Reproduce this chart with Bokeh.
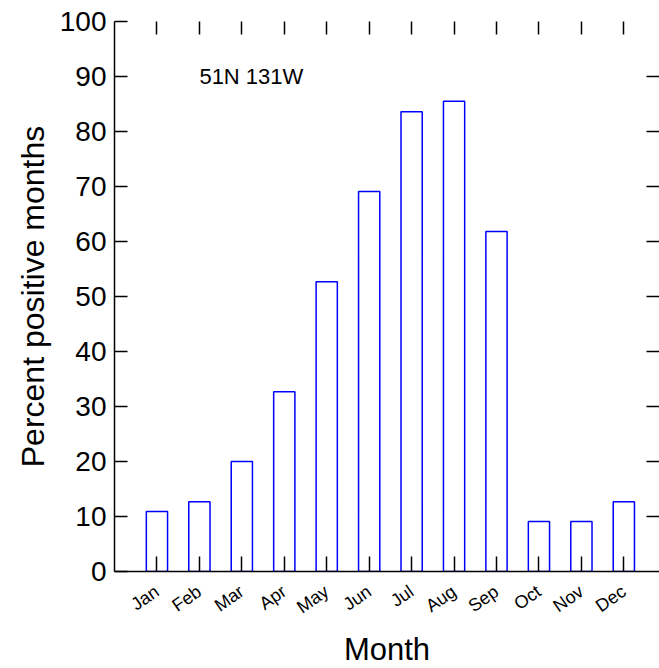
import math
from bokeh.plotting import figure
from bokeh.models import Range1d, LinearAxis, FixedTicker, Label, Title
from bokeh.embed import file_html
from bokeh.resources import INLINE

months = ["Jan", "Feb", "Mar", "Apr", "May", "Jun", "Jul", "Aug", "Sep", "Oct", "Nov", "Dec"]
month_idx = [1, 2, 3, 4, 5, 6, 7, 8, 9, 10, 11, 12]
percent = [10.9, 12.7, 20.0, 32.7, 52.7, 69.1, 83.6, 85.5, 61.8, 9.1, 9.1, 12.7]
y_ticks = [0, 10, 20, 30, 40, 50, 60, 70, 80, 90, 100]
site_label = "51N 131W"
x_title = "Month"
y_title = "Percent positive months"

FONT = "Liberation Sans"
X_END = 12.84

p = figure(width=659, height=668, output_backend="svg", toolbar_location=None,
           x_range=Range1d(0, X_END), y_range=Range1d(0, 100),
           x_axis_location=None, y_axis_location=None,
           min_border_left=114, min_border_right=0, min_border_top=21, min_border_bottom=97)
p.grid.visible = False
p.outline_line_color = None

p.vbar(x=month_idx, top=percent, width=0.5, bottom=0,
       fill_color="white", line_color="#0000ff", line_width=1.5)

# left axis
ya = LinearAxis(ticker=FixedTicker(ticks=y_ticks), axis_label=y_title)
ya.major_tick_in = 13
ya.major_tick_out = 0
ya.minor_tick_line_color = None
ya.major_label_text_font = FONT
ya.major_label_text_font_size = "28px"
ya.major_label_text_color = "black"
ya.major_label_standoff = 8
ya.axis_label_text_font = FONT
ya.axis_label_text_font_size = "32px"
ya.axis_label_text_font_style = "normal"
ya.axis_label_text_color = "black"
ya.axis_label_standoff = 6
ya.axis_line_width = 1.5
ya.axis_line_color = "black"
ya.major_tick_line_width = 1.5
ya.major_tick_line_color = "black"
p.add_layout(ya, "left")

# bottom axis
xa = LinearAxis(ticker=FixedTicker(ticks=month_idx))
xa.major_label_overrides = {i: m for i, m in zip(month_idx, months)}
xa.major_tick_in = 15
xa.major_tick_out = 0
xa.minor_tick_line_color = None
xa.major_label_orientation = math.radians(35)
xa.major_label_text_font = FONT
xa.major_label_text_font_size = "18px"
xa.major_label_text_color = "black"
xa.major_label_standoff = 18
xa.axis_line_width = 1.5
xa.axis_line_color = "black"
xa.major_tick_line_width = 1.5
xa.major_tick_line_color = "black"
p.add_layout(xa, "below")

# x axis title in its own panel below the axis
p.add_layout(Title(text=x_title, align="center", text_font=FONT, text_font_size="31px",
                   text_font_style="normal", text_color="black", standoff=3), "below")

# top ticks
ta = LinearAxis(ticker=FixedTicker(ticks=month_idx))
ta.major_label_text_font_size = "0px"
ta.major_label_standoff = 0
ta.major_tick_in = 13
ta.major_tick_out = 0
ta.minor_tick_line_color = None
ta.axis_line_color = None
ta.major_tick_line_width = 1.5
ta.major_tick_line_color = "black"
p.add_layout(ta, "above")

# right ticks
ra = LinearAxis(ticker=FixedTicker(ticks=y_ticks[1:-1]))
ra.major_label_text_font_size = "0px"
ra.major_label_standoff = 0
ra.major_tick_in = 13
ra.major_tick_out = 0
ra.minor_tick_line_color = None
ra.axis_line_color = None
ra.major_tick_line_width = 1.5
ra.major_tick_line_color = "black"
p.add_layout(ra, "right")

p.add_layout(Label(x=2.0, y=90, text=site_label, text_font=FONT, text_font_size="22px",
                   text_baseline="middle", text_align="left", text_color="black"))

open("out.html", "w").write(file_html(p, INLINE))
